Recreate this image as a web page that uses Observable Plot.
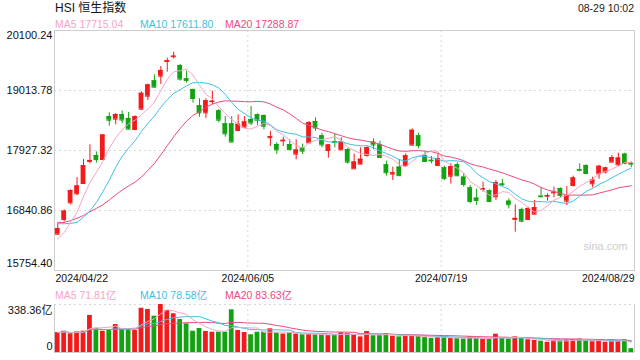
<!DOCTYPE html>
<html><head><meta charset="utf-8">
<script src="https://cdn.jsdelivr.net/npm/d3@7"></script>
<script src="https://cdn.jsdelivr.net/npm/@observablehq/plot@0.6"></script>
<style>
html,body{margin:0;padding:0;background:#fff;}
body{width:640px;height:360px;overflow:hidden;position:relative;font-family:"Liberation Sans",Arial,"Noto Sans CJK SC",sans-serif;}
.t{position:absolute;white-space:nowrap;line-height:1;}
#price,#vol{position:absolute;left:0;}
#price{top:0;}
#vol{top:290px;}
</style></head><body>
<div class="t" id="title" style="left:55px;top:2px;font-size:12px;color:#111;">HSI 恒生指数</div>
<div class="t" id="time" style="right:6px;top:3px;font-size:10.5px;color:#222;"></div>
<div class="t" id="leg1" style="left:0;top:19px;font-size:10.5px;"></div>
<div class="t" id="leg2" style="left:0;top:290px;font-size:10.5px;"></div>
<div id="price"></div>
<div id="vol"></div>
<script>
// ---------- data ----------
const timeLabel = "08-29 10:02";
const dateTicks = ["2024/04/22", "2024/06/05", "2024/07/19", "2024/08/29"];
const dateTickPos = [0, 30, 60, 90];
const priceTicks = [20100.24, 19013.78, 17927.32, 16840.86, 15754.40];
const volTop = 338.36;
const maNames = ["MA5", "MA10", "MA20"];
const priceLegendValues = ["17715.04", "17611.80", "17288.87"];
const volLegendValues = ["71.81亿", "78.58亿", "83.63亿"];

// closes before the visible window (feed the moving averages only)
const priorCloses = [16863.10, 16499.47, 16473.64, 16618.32, 16392.84, 16541.42, 16931.52, 16725.10, 16723.92, 16732.85,
  16828.07, 17139.17, 17095.03, 16721.69, 16600.46, 16248.97, 16251.84, 16385.87, 16224.45];

const opens = [16412, 16678, 16980, 17143, 17330, 17730, 17837, 17764, 18543, 18495,
  18579, 18507, 18308, 18676, 18911, 19189, 19273, 19540, 19625, 19466,
  19225, 19032, 18736, 18609, 18815, 18646, 18410, 18410, 18290, 18350,
  18489, 18573, 18561, 18160, 18036, 18100, 18036, 17861, 17970, 18066,
  18452, 18193, 17927, 18085, 17939, 17945, 17595, 17680, 17837, 18078,
  18030, 17668, 17500, 17626, 17650, 18024, 18193, 17831, 17750, 17656,
  17613, 17462, 17668, 17445, 17251, 17065, 17225, 17197, 17089, 17320,
  17010, 16680, 16859, 16678, 16774, 17100, 17100, 17160, 17239, 17010,
  17293, 17580, 17656, 17324, 17505, 17535, 17716, 17668, 17861, 17695];
const highs = [16600, 16853, 17215, 17438, 17765, 18030, 17903, 18220, 18609, 18597,
  18645, 18615, 18555, 18990, 19128, 19297, 19448, 19599, 19708, 19485,
  19364, 19038, 18863, 18863, 19002, 18670, 18543, 18543, 18573, 18543,
  18724, 18591, 18573, 18271, 18066, 18169, 18120, 18120, 18042, 18452,
  18519, 18235, 18036, 18223, 18157, 17964, 17861, 17976, 17994, 18139,
  18096, 17734, 17625, 17764, 17867, 18320, 18241, 17897, 17819, 17879,
  17644, 17686, 17704, 17505, 17293, 17227, 17354, 17215, 17384, 17402,
  17052, 16943, 16883, 16901, 17022, 17251, 17143, 17263, 17251, 17275,
  17462, 17686, 17668, 17444, 17660, 17625, 17837, 17879, 17879, 17720];
const lows = [16400, 16630, 16943, 17113, 17324, 17686, 17698, 17760, 18368, 18392,
  18416, 18308, 18285, 18652, 18833, 19062, 19122, 19346, 19587, 19183,
  19147, 18784, 18531, 18507, 18760, 18428, 18169, 18078, 18285, 18344,
  18380, 18380, 18302, 18000, 17855, 18000, 17927, 17758, 17855, 18048,
  18277, 17976, 17788, 17976, 17927, 17680, 17589, 17674, 17807, 17939,
  17795, 17462, 17384, 17462, 17638, 18020, 17958, 17720, 17686, 17650,
  17384, 17318, 17456, 17263, 16962, 16931, 17173, 16992, 17022, 17282,
  16871, 16448, 16617, 16670, 16768, 17070, 17010, 17070, 17070, 16931,
  17269, 17541, 17499, 17251, 17408, 17505, 17710, 17638, 17668, 17620];
const closes = [16511.69, 16828.93, 17201.27, 17284.54, 17651.15, 17746.91, 17763.03, 18207.13, 18475.92, 18578.30,
  18479.37, 18313.86, 18537.81, 18963.68, 19115.06, 19073.71, 19376.53, 19553.61, 19636.22, 19220.62,
  19195.60, 18868.71, 18608.94, 18827.35, 18821.16, 18477.01, 18230.19, 18079.61, 18403.04, 18444.11,
  18424.71, 18475.86, 18366.95, 18176.34, 17937.84, 18112.63, 17941.78, 17936.12, 17915.55, 18430.39,
  18335.32, 18028.52, 18027.71, 18072.90, 18089.93, 17716.47, 17718.61, 17769.14, 17978.57, 18028.28,
  17799.61, 17524.06, 17523.23, 17471.67, 17832.33, 18293.38, 18015.94, 17727.98, 17739.41, 17778.41,
  17417.68, 17635.88, 17469.36, 17311.05, 17004.96, 17021.31, 17238.34, 17002.91, 17344.60, 17304.96,
  16945.51, 16698.36, 16647.34, 16877.86, 16891.83, 17090.23, 17111.97, 17174.06, 17113.36, 17109.14,
  17430.16, 17569.57, 17511.08, 17391.01, 17641.04, 17612.10, 17798.73, 17790.94, 17692.45, 17680.98];
// turnover, 亿
const volumes = [140, 150, 132, 145, 150, 261, 171, 150, 155, 197,
  162, 164, 155, 312, 303, 256, 338.36, 296, 273, 233,
  202, 150, 169, 148, 143, 143, 143, 301, 155, 141,
  125, 143, 143, 167, 136, 130, 136, 130, 125, 128,
  125, 125, 120, 125, 139, 134, 120, 110, 148, 118,
  122, 132, 115, 110, 118, 118, 115, 105, 100, 105,
  110, 100, 98, 95, 110, 100, 92, 95, 129, 100,
  95, 110, 98, 90, 85, 80, 72, 85, 82, 89.8,
  92, 95, 80, 76, 83.75, 72, 88, 82, 90, 27.05];

// ---------- styles ----------
const RED = "#f21a1a", GREEN = "#12a212";
const MA_COLORS = ["#f7a3c4", "#3cc2e4", "#ec4a80"];
const FONT = '"Liberation Sans", Arial, "Noto Sans CJK SC", sans-serif';

// ---------- derived ----------
const allCloses = priorCloses.concat(closes);
const P = priorCloses.length;
const priceMA = k => closes.map((_, i) => d3.mean(allCloses.slice(P + i - k + 1, P + i + 1)));
const volMA = k => volumes.map((_, i) => d3.mean(volumes.slice(Math.max(0, i - k + 1), i + 1)));
const rows = closes.map((c, i) => ({
  x: i + 0.5, o: opens[i], h: highs[i], l: lows[i], c, v: volumes[i],
  col: c >= opens[i] ? RED : GREEN
}));
[5, 10, 20].forEach(k => {
  const a = priceMA(k), b = volMA(k);
  rows.forEach((r, i) => { r["ma" + k] = a[i]; r["vma" + k] = b[i]; });
});

// ---------- legends ----------
document.getElementById("time").textContent = timeLabel;
const legX = [55, 140, 225];
function fillLegend(id, vals) {
  const el = document.getElementById(id);
  maNames.forEach((nm, j) => {
    const s = document.createElement("span");
    s.className = "t";
    s.style.left = legX[j] + "px";
    s.style.top = "0px";
    s.style.color = MA_COLORS[j];
    s.textContent = nm + " " + vals[j];
    el.appendChild(s);
  });
}
fillLegend("leg1", priceLegendValues);
fillLegend("leg2", volLegendValues);

const halfW = 0.37;
const dotted = {stroke: "#d6d6d6", strokeDasharray: "2,3"};

// ---------- price panel ----------
const price = Plot.plot({
  width: 640, height: 290,
  marginTop: 30, marginBottom: 20, marginLeft: 54, marginRight: 6,
  x: {domain: [0, 90], axis: null},
  y: {domain: [priceTicks[4], priceTicks[0]], axis: null},
  color: {type: "identity"},
  style: {fontFamily: FONT, fontSize: "11px", background: "transparent", overflow: "visible"},
  marks: [
    Plot.ruleY(priceTicks.slice(1, 4), dotted),
    Plot.ruleX([30, 60], dotted),
    Plot.frame({stroke: "#cdcdcd"}),
    Plot.text(["sina.com"], {frameAnchor: "bottom-right", dx: -7, dy: -21, fill: "#cbcbcb", fontSize: 11}),
    Plot.ruleX(rows, {x: "x", y1: "l", y2: "h", stroke: "col", strokeWidth: 1}),
    Plot.rectY(rows, {x1: d => d.x - halfW, x2: d => d.x + halfW, y1: d => Math.min(d.o, d.c), y2: d => Math.max(d.o, d.c), fill: "col"}),
    Plot.ruleY(rows, {y: "c", x1: d => d.x - halfW, x2: d => d.x + halfW, stroke: "col"}),
    Plot.ruleY(rows, {y: "o", x1: d => d.x - halfW, x2: d => d.x + halfW, stroke: "col"}),
    Plot.lineY(rows, {x: "x", y: "ma20", stroke: MA_COLORS[2], strokeWidth: 1}),
    Plot.lineY(rows, {x: "x", y: "ma10", stroke: MA_COLORS[1], strokeWidth: 1}),
    Plot.lineY(rows, {x: "x", y: "ma5", stroke: MA_COLORS[0], strokeWidth: 1}),
    Plot.text(priceTicks.slice(1, 4), {x: 0, y: d => d, text: d => d.toFixed(2), textAnchor: "end", dx: -2, fill: "#111"}),
    Plot.text([priceTicks[0]], {x: 0, y: d => d, text: d => d.toFixed(2), textAnchor: "end", dx: -2, dy: 5, fill: "#111"}),
    Plot.text([priceTicks[4]], {x: 0, y: d => d, text: d => d.toFixed(2), textAnchor: "end", dx: -2, dy: -7, fill: "#111"}),
    Plot.text([dateTicks[0]], {x: dateTickPos[0], y: priceTicks[4], textAnchor: "start", dx: 1, dy: 8, fill: "#111", fontSize: 10.5}),
    Plot.text(dateTicks.slice(1, 3), {x: (d, i) => dateTickPos[i + 1], y: priceTicks[4], textAnchor: "middle", dy: 8, fill: "#111", fontSize: 10.5}),
    Plot.text([dateTicks[3]], {x: dateTickPos[3], y: priceTicks[4], textAnchor: "end", dy: 8, fill: "#111", fontSize: 10.5})
  ]
});
document.getElementById("price").appendChild(price);

// ---------- volume panel ----------
const vol = Plot.plot({
  width: 640, height: 70,
  marginTop: 14, marginBottom: 8, marginLeft: 54, marginRight: 6,
  x: {domain: [0, 90], axis: null},
  y: {domain: [0, volTop], axis: null},
  color: {type: "identity"},
  style: {fontFamily: FONT, fontSize: "11px", background: "transparent", overflow: "visible"},
  marks: [
    Plot.ruleY([volTop], dotted),
    Plot.ruleX([30, 60], dotted),
    Plot.ruleX([0, 90], {stroke: "#cdcdcd"}),
    Plot.ruleY([0], {stroke: "#cdcdcd"}),
    Plot.rectY(rows, {x1: d => d.x - halfW, x2: d => d.x + halfW, y1: 0, y2: "v", fill: "col"}),
    Plot.lineY(rows, {x: "x", y: "vma20", stroke: MA_COLORS[2], strokeWidth: 1}),
    Plot.lineY(rows, {x: "x", y: "vma10", stroke: MA_COLORS[1], strokeWidth: 1}),
    Plot.lineY(rows, {x: "x", y: "vma5", stroke: MA_COLORS[0], strokeWidth: 1}),
    Plot.text([volTop], {x: 0, y: d => d, text: d => d.toFixed(2) + "亿", textAnchor: "end", dx: -2, dy: 6, fill: "#111"}),
    Plot.text([0], {x: 0, y: d => d, text: d => String(d), textAnchor: "end", dx: -2, dy: -6, fill: "#111"})
  ]
});
document.getElementById("vol").appendChild(vol);
</script>
</body></html>
